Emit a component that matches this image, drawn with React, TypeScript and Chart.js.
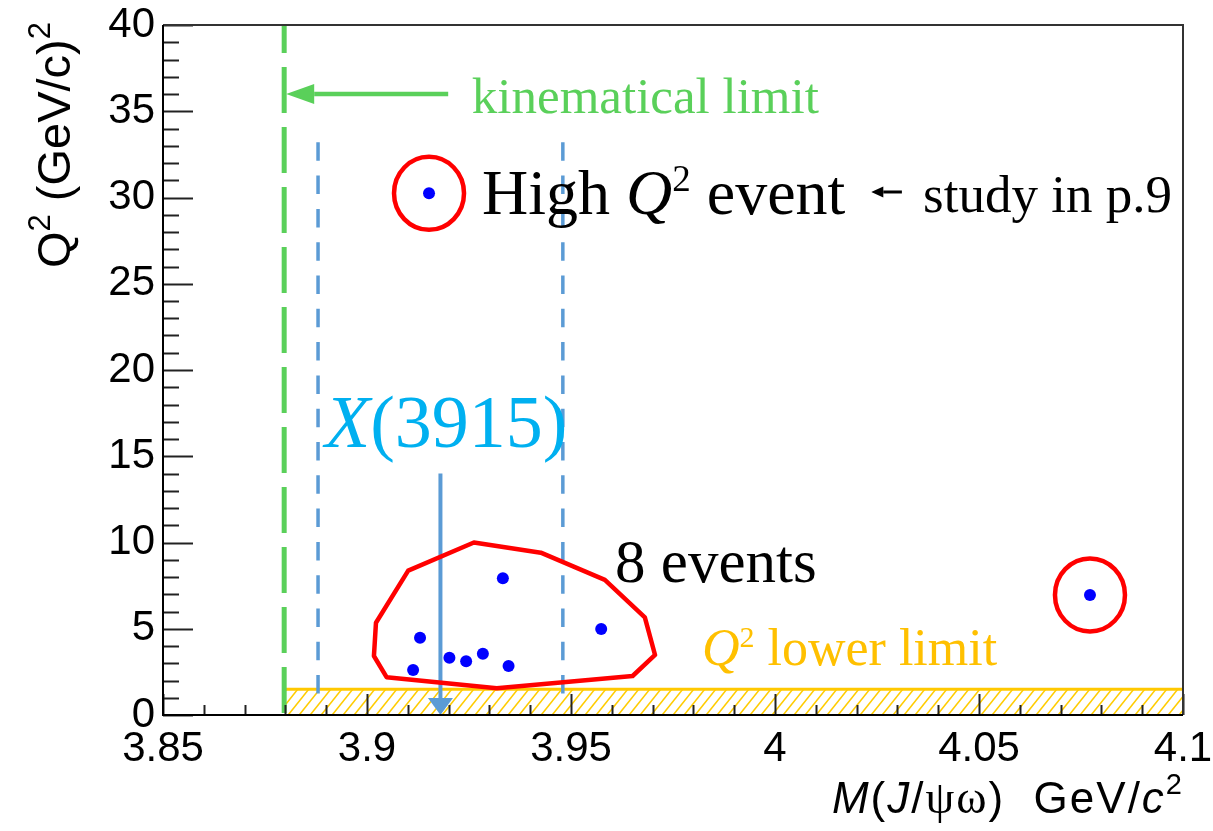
import React, { useEffect, useRef } from 'react';
import { Chart, registerables } from 'chart.js';

Chart.register(...registerables);

// events: M(J/psi omega) [GeV/c^2] and Q^2 [(GeV/c)^2]
const eventMass = [3.9333, 3.9130, 3.9113, 3.9202, 3.9243, 3.9284, 3.9347, 3.9574, 3.9152, 4.0772];
const eventQ2   = [7.93,   4.48,   2.61,   3.32,   3.11,   3.55,   2.84,   4.99,   30.24,  6.96];
const circledEvents = [8, 9];

// hand-drawn outline around the 8 events
const clusterMass = [3.9262, 3.9426, 3.9583, 3.9681, 3.9706, 3.9651, 3.9318, 3.9048, 3.9017, 3.9022, 3.9101];
const clusterQ2   = [10.0,   9.41,   7.83,   5.66,   3.48,   2.26,   1.55,   2.19,   3.42,   5.35,   8.37];

const kinematicLimit = 3.8797;
const x3915Mass = 3.918;
const x3915Window = [3.888, 3.948];
const windowQ2 = [0.9, 33.2];
const q2LowerLimit = 1.5;

const xTicks = [3.85, 3.9, 3.95, 4.0, 4.05, 4.1];
const yTicks = [0, 5, 10, 15, 20, 25, 30, 35, 40];

const SANS = '"Liberation Sans", Arial, sans-serif';
const SERIF = '"Liberation Serif", "Times New Roman", serif';

type Seg = { t: string; font: string; dy?: number };

function drawRich(ctx: CanvasRenderingContext2D, segs: Seg[], x: number, y: number, align: 'left' | 'right', color: string) {
  ctx.fillStyle = color;
  ctx.textAlign = 'left';
  ctx.textBaseline = 'alphabetic';
  const widths = segs.map(s => { ctx.font = s.font; return ctx.measureText(s.t).width; });
  const total = widths.reduce((a, b) => a + b, 0);
  let cx = align === 'right' ? x - total : x;
  segs.forEach((s, i) => {
    ctx.font = s.font;
    ctx.fillText(s.t, cx, y + (s.dy || 0));
    cx += widths[i];
  });
}

function arrow(ctx: CanvasRenderingContext2D, x0: number, y0: number, x1: number, y1: number, w: number, headLen: number, headHalf: number, color: string) {
  const ang = Math.atan2(y1 - y0, x1 - x0);
  const bx = x1 - Math.cos(ang) * headLen;
  const by = y1 - Math.sin(ang) * headLen;
  ctx.strokeStyle = color;
  ctx.fillStyle = color;
  ctx.lineWidth = w;
  ctx.setLineDash([]);
  ctx.beginPath();
  ctx.moveTo(x0, y0);
  ctx.lineTo(bx, by);
  ctx.stroke();
  ctx.beginPath();
  ctx.moveTo(x1, y1);
  ctx.lineTo(bx + Math.sin(ang) * headHalf, by - Math.cos(ang) * headHalf);
  ctx.lineTo(bx - Math.sin(ang) * headHalf, by + Math.cos(ang) * headHalf);
  ctx.closePath();
  ctx.fill();
}

const overlay = {
  id: 'overlay',
  beforeDatasetsDraw(chart: any) {
    const { ctx, chartArea: a, scales: { x, y } } = chart;
    const px = (v: number) => x.getPixelForValue(v);
    const py = (v: number) => y.getPixelForValue(v);
    ctx.save();

    // Q^2 lower limit band (hatched)
    const hx0 = px(kinematicLimit), hy0 = py(q2LowerLimit), hy1 = py(0);
    ctx.save();
    ctx.beginPath();
    ctx.rect(hx0, hy0, a.right - hx0, hy1 - hy0);
    ctx.clip();
    ctx.strokeStyle = '#ffcc00';
    ctx.lineWidth = 1.6;
    const h = hy1 - hy0;
    for (let sx = hx0 - 40; sx < a.right + 40; sx += 11) {
      ctx.beginPath();
      ctx.moveTo(sx, hy1);
      ctx.lineTo(sx + h * 0.8, hy0);
      ctx.stroke();
    }
    ctx.restore();
    ctx.strokeStyle = '#ffc800';
    ctx.lineWidth = 3;
    ctx.beginPath();
    ctx.moveTo(hx0, hy0);
    ctx.lineTo(a.right, hy0);
    ctx.stroke();

    // kinematical limit
    ctx.strokeStyle = '#5ad05a';
    ctx.lineWidth = 5;
    ctx.setLineDash([46, 14]);
    ctx.lineDashOffset = 18;
    ctx.beginPath();
    ctx.moveTo(px(kinematicLimit), py(40));
    ctx.lineTo(px(kinematicLimit), py(0));
    ctx.stroke();
    ctx.lineDashOffset = 0;

    // X(3915) mass window
    ctx.strokeStyle = '#5b9bd5';
    ctx.lineWidth = 3.5;
    ctx.setLineDash([18.5, 14.8]);
    x3915Window.forEach(m => {
      ctx.beginPath();
      ctx.moveTo(px(m), py(windowQ2[1]));
      ctx.lineTo(px(m), py(windowQ2[0]));
      ctx.stroke();
    });
    ctx.setLineDash([]);

    // X(3915) arrow
    arrow(ctx, px(x3915Mass), py(14.0), px(x3915Mass), py(0), 4, 17, 12.5, '#5b9bd5');

    // kinematical limit arrow
    arrow(ctx, px(3.9199), py(36.0), px(kinematicLimit) + 2, py(36.0), 4.5, 28, 10, '#5ad05a');

    // outline of the 8 events
    ctx.strokeStyle = '#ff0000';
    ctx.lineWidth = 4.5;
    ctx.lineJoin = 'round';
    ctx.beginPath();
    clusterMass.forEach((m, i) => {
      const X = px(m), Y = py(clusterQ2[i]);
      if (i === 0) ctx.moveTo(X, Y); else ctx.lineTo(X, Y);
    });
    ctx.closePath();
    ctx.stroke();

    // circles around the isolated events
    circledEvents.forEach(i => {
      ctx.beginPath();
      ctx.ellipse(px(eventMass[i]), py(eventQ2[i]), 35, 36.5, 0, 0, Math.PI * 2);
      ctx.stroke();
    });

    ctx.restore();
  },
  afterDraw(chart: any) {
    const { ctx, chartArea: a, scales: { x, y } } = chart;
    const px = (v: number) => x.getPixelForValue(v);
    const py = (v: number) => y.getPixelForValue(v);
    ctx.save();

    // inward ticks
    ctx.strokeStyle = '#222';
    ctx.lineWidth = 2;
    for (let k = 0; k <= 25; k++) {
      const v = 3.85 + k * 0.01;
      const major = k % 5 === 0;
      const X = Math.round(px(v)) + 0.5;
      ctx.beginPath();
      ctx.moveTo(X, a.bottom);
      ctx.lineTo(X, a.bottom - (major ? 21 : 10));
      ctx.stroke();
    }
    for (let k = 0; k <= 40; k++) {
      const major = k % 5 === 0;
      const Y = Math.round(py(k)) + 0.5;
      ctx.beginPath();
      ctx.moveTo(a.left, Y);
      ctx.lineTo(a.left + (major ? 30 : 16), Y);
      ctx.stroke();
    }

    // frame
    ctx.strokeStyle = '#333';
    ctx.lineWidth = 2;
    ctx.beginPath();
    ctx.moveTo(a.left, a.top);
    ctx.lineTo(a.right, a.top);
    ctx.lineTo(a.right, a.bottom);
    ctx.stroke();
    ctx.strokeStyle = '#000';
    ctx.beginPath();
    ctx.moveTo(a.left, a.top);
    ctx.lineTo(a.left, a.bottom);
    ctx.lineTo(a.right, a.bottom);
    ctx.stroke();

    // axis titles
    ctx.save();
    ctx.translate(70, a.top - 3);
    ctx.rotate(-Math.PI / 2);
    drawRich(ctx, [
      { t: 'Q', font: `47px ${SANS}` },
      { t: '2', font: `31px ${SANS}`, dy: -20 },
      { t: ' (GeV/', font: `47px ${SANS}` },
      { t: 'c', font: `47px ${SANS}` },
      { t: ')', font: `47px ${SANS}` },
      { t: '2', font: `31px ${SANS}`, dy: -20 },
    ], 0, 0, 'right', '#000');
    ctx.restore();

    ctx.save();
    ctx.letterSpacing = '2px';
    drawRich(ctx, [
      { t: 'M', font: `italic 44px ${SANS}` },
      { t: '(', font: `44px ${SANS}` },
      { t: 'J', font: `italic 44px ${SANS}` },
      { t: '/', font: `44px ${SANS}` },
      { t: 'ψω', font: `46px ${SERIF}` },
      { t: ')  GeV/', font: `44px ${SANS}` },
      { t: 'c', font: `italic 44px ${SANS}` },
      { t: '2', font: `29px ${SANS}`, dy: -19 },
    ], a.right + 1, a.bottom + 98, 'right', '#000');
    ctx.restore();

    // annotations
    drawRich(ctx, [{ t: 'kinematical limit', font: `51px ${SERIF}` }], px(3.9257), py(34.9), 'left', '#5ad05a');
    drawRich(ctx, [
      { t: 'High ', font: `64px ${SERIF}` },
      { t: 'Q', font: `italic 64px ${SERIF}` },
      { t: '2', font: `37px ${SERIF}`, dy: -23 },
      { t: ' event', font: `64px ${SERIF}` },
    ], px(3.9282), py(29.04), 'left', '#000');
    arrow(ctx, px(4.0311), py(30.32), px(4.0236), py(30.32), 3, 12, 5.5, '#000');
    drawRich(ctx, [{ t: 'study in p.9', font: `53px ${SERIF}` }], px(4.0363), py(29.18), 'left', '#000');
    drawRich(ctx, [
      { t: 'X', font: `italic 74px ${SERIF}` },
      { t: '(3915)', font: `74px ${SERIF}` },
    ], px(3.8897), py(15.54), 'left', '#00b0f0');
    drawRich(ctx, [{ t: '8 events', font: `61px ${SERIF}` }], px(3.9608), py(7.73), 'left', '#000');
    drawRich(ctx, [
      { t: 'Q', font: `italic 52px ${SERIF}` },
      { t: '2', font: `30px ${SERIF}`, dy: -18 },
      { t: ' lower limit', font: `52px ${SERIF}` },
    ], px(3.9821), py(2.9), 'left', '#ffc000');

    ctx.restore();
  },
};

const noPad = (s: any) => { s.paddingTop = 0; s.paddingBottom = 0; s.paddingLeft = 0; s.paddingRight = 0; };

export default function App() {
  const ref = useRef<HTMLCanvasElement>(null);

  useEffect(() => {
    const canvas = ref.current;
    if (!canvas) return;
    const chart = new Chart(canvas, {
      type: 'scatter',
      data: {
        datasets: [{
          data: eventMass.map((m, i) => ({ x: m, y: eventQ2[i] })),
          backgroundColor: '#0000ff',
          borderWidth: 0,
          pointRadius: 6,
          pointHoverRadius: 6,
        }],
      },
      options: {
        responsive: false,
        animation: false,
        devicePixelRatio: 1,
        layout: { padding: { left: 0, right: 30, top: 25, bottom: 0 } },
        plugins: { legend: { display: false }, tooltip: { enabled: false } },
        scales: {
          x: {
            type: 'linear',
            min: 3.85,
            max: 4.1,
            afterBuildTicks: (s: any) => { s.ticks = xTicks.map(v => ({ value: v })); },
            afterFit: (s: any) => { s.height = 116; noPad(s); },
            grid: { display: false, drawTicks: false },
            border: { display: false },
            ticks: {
              autoSkip: false,
              maxRotation: 0,
              padding: 9,
              color: '#000',
              font: { family: SANS, size: 42 },
              callback: (v: any) => String(+Number(v).toFixed(2)),
            },
          },
          y: {
            type: 'linear',
            min: 0,
            max: 40,
            afterBuildTicks: (s: any) => { s.ticks = yTicks.map(v => ({ value: v })); },
            afterFit: (s: any) => { s.width = 163; noPad(s); },
            grid: { display: false, drawTicks: false },
            border: { display: false },
            ticks: {
              autoSkip: false,
              padding: 8,
              color: '#000',
              font: { family: SANS, size: 42 },
            },
          },
        },
      },
      plugins: [overlay],
    });
    return () => { chart.destroy(); };
  }, []);

  return (
    <div style={{ position: 'absolute', left: 0, top: 0, width: 1213, height: 831, background: '#fff' }}>
      <canvas ref={ref} width={1213} height={831} style={{ display: 'block' }} />
    </div>
  );
}
